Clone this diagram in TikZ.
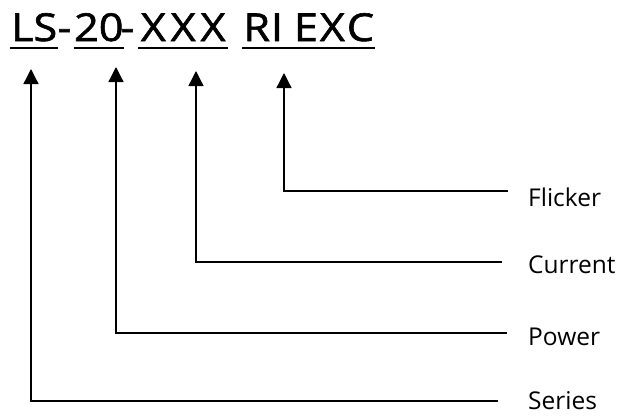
\documentclass[tikz,border=0pt]{standalone}
\usepackage{fontspec}
\setmainfont{Open Sans}
\newfontfamily\codefont[FakeStretch=1.12, FakeBold=1.6]{Open Sans}
\usetikzlibrary{arrows.meta, positioning}

\begin{document}
\begin{tikzpicture}[x=1pt, y=-1pt,
		part/.style={inner sep=0pt, anchor=base west, font=\codefont\fontsize{38.5}{42}\selectfont},
		field/.style={inner sep=0pt, anchor=west, font=\fontsize{24.5}{28}\selectfont},
		uline/.style={line width=1.6pt},
		lead/.style={line width=1.3pt, -{Triangle[length=15pt, width=15pt]}}]
		
		\useasboundingbox (0,0) rectangle (622,416);
		
		% code parts
		\node[part, minimum width=48pt] (ls) at (10,41) {LS};
		\node[part, anchor=base] (h1) at (64.5,41) {-};
		\node[part, minimum width=49pt] (tw) at (74,41) {20};
		\node[part, anchor=base] (h2) at (127.5,41) {-};
		\node[part, minimum width=90pt] (xx) at (138,41) {X\kern5pt X\kern5pt X};
		\node[part, minimum width=133pt] (ri) at (242,41) {R\kern1pt I\kern11pt E\kern2pt X\kern2pt C};
		
		\foreach \p in {ls, tw, xx, ri}
		\draw[uline] ([yshift=-7pt]\p.base west) -- ([yshift=-7pt]\p.base east);
		
		% arrow tips under the parts
		\coordinate (t1) at (31,69);
		\coordinate (t2) at (116,67);
		\coordinate (t3) at (196,71);
		\coordinate (t4) at (284,73);
		
		% ends of the leads
		\coordinate (e1) at (498,401);
		\coordinate (e2) at (507,333);
		\coordinate (e3) at (502,262);
		\coordinate (e4) at (508,191);
		
		\node[field, right=30pt of e1] (series) {Series};
		\node[field, right=21pt of e2, yshift=-4pt] (power) {Power};
		\node[field, right=26pt of e3, yshift=-3pt] (current) {Current};
		\node[field, right=20pt of e4, yshift=-6pt] (flicker) {Flicker};
		
		\draw[lead] (e1) -| (t1);
		\draw[lead] (e2) -| (t2);
		\draw[lead] (e3) -| (t3);
		\draw[lead] (e4) -| (t4);
		
\end{tikzpicture}
\end{document}
